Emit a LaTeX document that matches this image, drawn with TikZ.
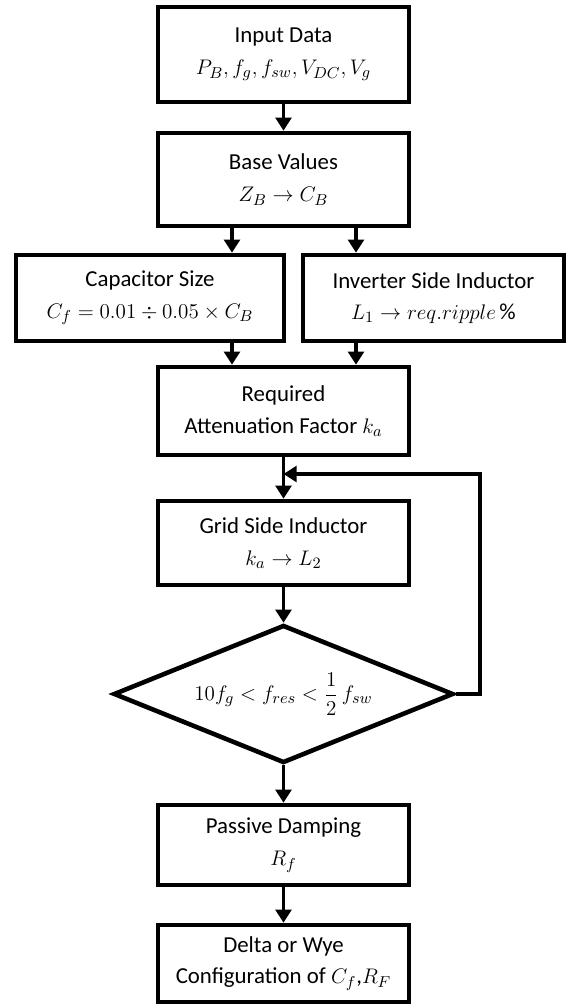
\documentclass[tikz,border=0pt]{standalone}
\usepackage{amsmath}
\usepackage{fontspec}
\setmainfont{Carlito}
\usetikzlibrary{arrows.meta,shapes.geometric}

\begin{document}
\begin{tikzpicture}[>={Triangle[width=9pt,length=7.5pt]}, line width=2pt,
  box/.style={draw, rectangle, line width=2.6pt, align=center, inner sep=2pt, font=\fontsize{13}{18}\selectfont},
  test/.style={draw, diamond, aspect=2.46, line width=2.6pt, inner sep=0pt, font=\fontsize{13}{18}\selectfont}]
\useasboundingbox (0,0) rectangle (11.36,-20.16);
\node[box, minimum width=5.02cm, minimum height=1.9cm] (in) at (5.67,-1.09) {Input Data\\ $P_B, f_g, f_{sw}, V_{DC}, V_g$};
\node[box, minimum width=5.02cm, minimum height=1.86cm] (base) at (5.67,-3.59) {Base Values\\ $Z_B \rightarrow C_B$};
\node[box, minimum width=5.36cm, minimum height=1.72cm] (cap) at (3.00,-5.96) {Capacitor Size\\ $C_f = 0.01 \div 0.05 \times C_B$};
\node[box, minimum width=5.22cm, minimum height=1.72cm] (inv) at (8.67,-5.96) {Inverter Side Inductor\\ $L_1 \rightarrow req.ripple\,\%$};
\node[box, minimum width=5.02cm, minimum height=1.76cm] (req) at (5.67,-8.22) {Required\\ Attenuation Factor $k_a$};
\node[box, minimum width=5.02cm, minimum height=1.68cm] (grid) at (5.67,-10.86) {Grid Side Inductor\\ $k_a \rightarrow L_2$};
\node[test, minimum width=6.8cm, minimum height=2.76cm] (dec) at (5.67,-13.88) {$10f_g < f_{res} < \dfrac{1}{2}\, f_{sw}$};
\node[box, minimum width=5.02cm, minimum height=1.6cm] (pass) at (5.67,-16.90) {Passive Damping\\ $R_f$};
\node[box, minimum width=5.02cm, minimum height=1.54cm] (delta) at (5.67,-19.27) {Delta or Wye\\ Configuration of $C_f$,$R_F$};
\coordinate (lx) at (4.64,0);
\coordinate (rx) at (7.12,0);
\coordinate (loop) at (9.6,-9.48);
\draw[->] (in) -- (base);
\draw[->] (base.south -| lx) -- (cap.north -| lx);
\draw[->] (base.south -| rx) -- (inv.north -| rx);
\draw[->] (cap.south -| lx) -- (req.north -| lx);
\draw[->] (inv.south -| rx) -- (req.north -| rx);
\draw[->] (req) -- (grid);
\draw[->] (dec.east) -| (loop) -- (loop -| req.south);
\draw[->] (grid) -- (dec);
\draw[->] (dec) -- (pass);
\draw[->] (pass) -- (delta);
\end{tikzpicture}
\end{document}
